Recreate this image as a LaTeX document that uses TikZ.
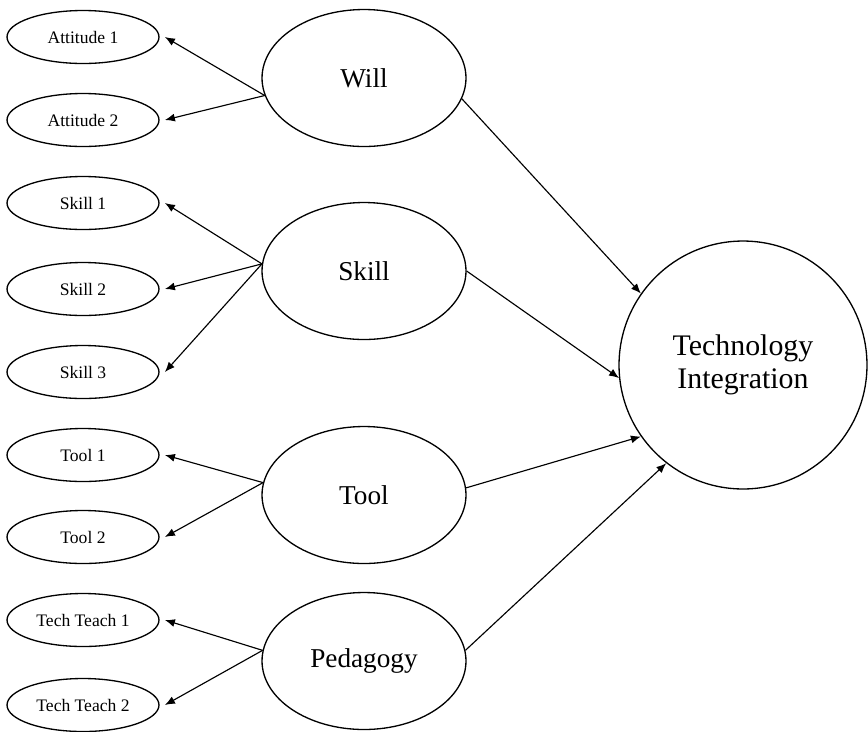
\documentclass[tikz,border=0pt]{standalone}
\usepackage{fontspec}
\setmainfont{Liberation Serif}
\usetikzlibrary{arrows.meta,shapes.geometric}

\tikzset{
  item/.style={draw, ellipse, minimum width=3.04cm, minimum height=1.06cm, inner sep=0pt, font=\fontsize{10}{12}\selectfont},
  factor/.style={draw, ellipse, minimum width=4.08cm, minimum height=2.74cm, inner sep=0pt, font=\fontsize{15.5}{18}\selectfont},
  outcome/.style={draw, circle, minimum size=4.96cm, inner sep=0pt, align=center, font=\fontsize{17}{19}\selectfont},
  link/.style={-{Latex[length=2mm,width=1.6mm]}, line width=0.65pt}
}

\begin{document}
\begin{tikzpicture}[x=0.02cm, y=-0.02cm, line width=0.75pt]

  \useasboundingbox (0,0) rectangle (868,731);
  % indicators on the left
  \foreach \n/\y/\t in {att1/37/Attitude 1, att2/120/Attitude 2, sk1/203/Skill 1, sk2/289/Skill 2, sk3/372/Skill 3,
                        tl1/455/Tool 1, tl2/537/Tool 2, tt1/620/Tech Teach 1, tt2/705/Tech Teach 2}
    \node[item] (\n) at (83,\y) {\t};

  % factors
  \node[factor] (will)  at (364,78)  {Will};
  \node[factor] (skill) at (364,271) {Skill};
  \node[factor] (tool)  at (364,495) {Tool};
  \node[factor] (ped)   at (364,661) {Pedagogy};

  \node[outcome] (ti) at (743,365) {Technology\\Integration};

  \draw[link] (will.190) -- ([xshift=3pt]att1.east);
  \draw[link] (will.190) -- ([xshift=3pt]att2.east);
  \draw[link] (skill.176) -- ([xshift=3pt]sk1.east);
  \draw[link] (skill.176) -- ([xshift=3pt]sk2.east);
  \draw[link] (skill.176) -- ([xshift=3pt]sk3.east);
  \draw[link] (tool.173) -- ([xshift=3pt]tl1.east);
  \draw[link] (tool.173) -- ([xshift=3pt]tl2.east);
  \draw[link] (ped.174) -- ([xshift=3pt]tt1.east);
  \draw[link] (ped.174) -- ([xshift=3pt]tt2.east);

  \draw[link] (will.-12) -- (ti.145);
  \draw[link] (skill.east) -- (ti.186);
  \draw[link] (tool.4) -- (ti.215);
  \draw[link] (ped.6) -- (ti.232);
\end{tikzpicture}
\end{document}
